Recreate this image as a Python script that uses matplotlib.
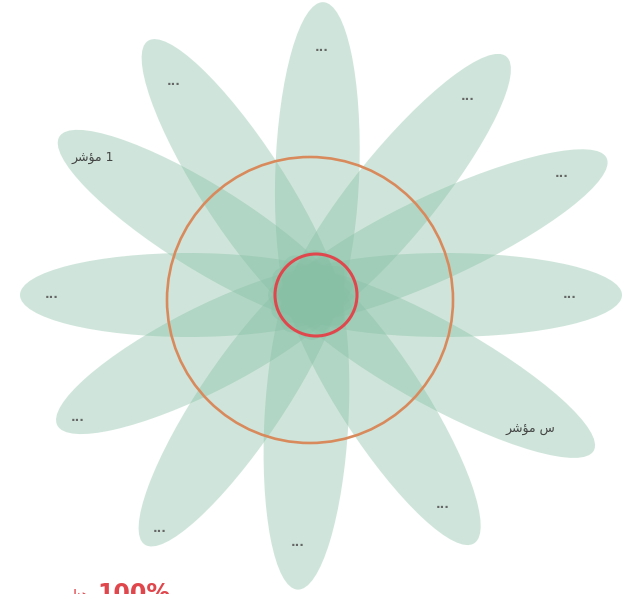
import numpy as np
import matplotlib
matplotlib.use("Agg")
import matplotlib.pyplot as plt
from matplotlib.patches import Ellipse, Circle

# petal directions (deg, counter-clockwise from east) and tip distance from centre (px)
petal_angles = [0, 25, 51, 88, 123, 148, 180, 207, 236, 267, 303, 331]
petal_lengths = [309, 324, 307, 293, 303, 299, 293, 287, 301, 295, 296, 321]
# arabic shaped by hand (presentation forms, visual order): "مؤشر 1", "مؤشر س"
petal_labels = ["...", "...", "...", "...", "...", "\ufeae\ufeb7\ufe86\ufee3 1",
                "...", "...", "...", "...", "...", "\ufeae\ufeb7\ufe86\ufee3 \ufeb1"]
outer_ring = 143
inner_ring = 41
value_text = "100%"

# label placement (layout)
label_angles = [0, 26, 52, 88, 123, 148, 180, 207.6, 236.7, 266.5, 301.8, 328.2]
label_radii = [257, 277, 252, 248, 255, 260, 261, 265, 279, 248, 247, 256]

cx, cy = 313, 295
half_w = 42
overshoot = 45   # petals reach a bit past the centre

fig = plt.figure(figsize=(6.26, 5.94), dpi=100)
ax = fig.add_axes([0, 0, 1, 1])
ax.set_xlim(0, 626)
ax.set_ylim(594, 0)
ax.set_aspect("equal")
ax.axis("off")

for ang, L in zip(petal_angles, petal_lengths):
    a = np.radians(ang)
    d = (L - overshoot) / 2
    ex = cx + d * np.cos(a)
    ey = cy - d * np.sin(a)
    ax.add_patch(Ellipse((ex, ey), L + overshoot, 2 * half_w, angle=-ang,
                         facecolor="#87c0a5", alpha=0.4, edgecolor="none"))

for lab, la, r in zip(petal_labels, label_angles, label_radii):
    a = np.radians(la)
    tx = cx + r * np.cos(a)
    ty = cy - r * np.sin(a)
    if lab == "...":
        ax.text(tx, ty, lab, fontsize=8.5, fontweight="bold", color="#666666",
                ha="center", va="center")
    else:
        ax.text(tx, ty, lab, fontsize=9, color="#444444", ha="center", va="center",
                family=["DejaVu Sans"])

ax.add_patch(Circle((310, 300), outer_ring, fill=False, edgecolor="#d98a5c", lw=1.9))
ax.add_patch(Circle((cx + 3, cy), inner_ring, fill=False, edgecolor="#e0474c", lw=2.2))

ax.text(97, 601, value_text, fontsize=17, fontweight="bold", color="#e0474c",
        ha="left", va="baseline")
ax.text(90, 600, "\ufe8e\ufee8\ufeeb", fontsize=11, color="#e0474c",
        ha="right", va="baseline", family=["DejaVu Sans"])

fig.savefig("out.png", dpi=100)
